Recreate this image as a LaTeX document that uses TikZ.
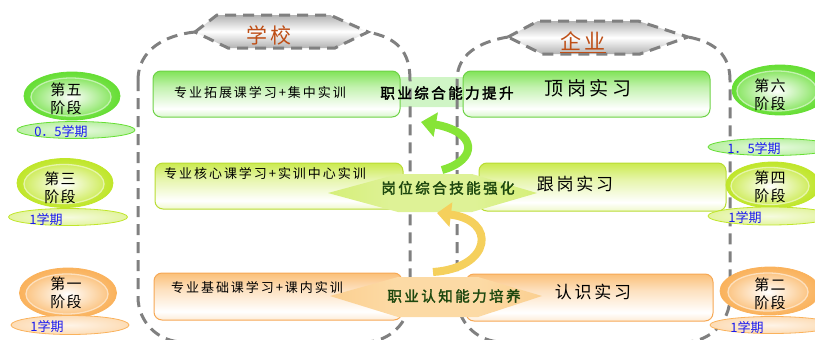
\documentclass[tikz,border=0pt]{standalone}
\usepackage{fontspec}
\setmainfont{Noto Sans CJK SC}
\newfontfamily\cjkheavy{Noto Sans CJK SC}[FakeBold=2.2]
\usetikzlibrary{shapes.geometric,arrows.meta}
\definecolor{cG}{RGB}{102,222,52}
\definecolor{cGd}{RGB}{110,210,70}
\definecolor{cY}{RGB}{192,230,42}
\definecolor{cYd}{RGB}{185,220,50}
\definecolor{cO}{RGB}{250,178,92}
\definecolor{cOd}{RGB}{246,168,85}
\definecolor{dashc}{RGB}{128,128,128}
\definecolor{titlec}{RGB}{190,78,22}
\definecolor{semc}{RGB}{25,25,240}
\definecolor{midtxt}{RGB}{30,72,15}
\definecolor{arrG}{RGB}{135,228,55}
\definecolor{arrY}{RGB}{245,208,92}
\definecolor{palG}{RGB}{208,245,198}
\definecolor{cMt}{RGB}{198,234,70}
\definecolor{cMc}{RGB}{222,242,150}
\definecolor{cBt}{RGB}{250,190,110}
\definecolor{cBc}{RGB}{252,218,165}
\pgfdeclareverticalshading{shG}{100bp}{color(0bp)=(cG); color(14bp)=(cG!55!white); color(34bp)=(white); color(58bp)=(cG!40!white); color(82bp)=(cG); color(100bp)=(cG)}
\pgfdeclareverticalshading{shY}{100bp}{color(0bp)=(cY); color(14bp)=(cY!55!white); color(34bp)=(white); color(58bp)=(cY!40!white); color(82bp)=(cY); color(100bp)=(cY)}
\pgfdeclareverticalshading{shO}{100bp}{color(0bp)=(cO); color(14bp)=(cO!55!white); color(34bp)=(white); color(58bp)=(cO!40!white); color(82bp)=(cO); color(100bp)=(cO)}
\pgfdeclarehorizontalshading{shMid}{100bp}{color(0bp)=(cMt); color(40bp)=(cMc); color(60bp)=(cMc); color(100bp)=(cMt)}
\pgfdeclarehorizontalshading{shBot}{100bp}{color(0bp)=(cBt); color(40bp)=(cBc); color(60bp)=(cBc); color(100bp)=(cBt)}
\tikzset{
  dashline/.style={draw=dashc, line width=3pt, dash pattern=on 11pt off 7pt},
  hexlabel/.style={dashline, top color=black!30, bottom color=black!30, middle color=white},
  titletxt/.style={font={\fontsize{21}{24}\selectfont\addfontfeatures{LetterSpace=15}}, text=titlec, inner sep=0},
  box/.style={rounded corners=8pt, line width=1pt, inner sep=0, minimum width=247pt, minimum height=46pt, shade},
  ltxt/.style={font={\fontsize{13}{15}\selectfont\addfontfeatures{LetterSpace=15}}, inner sep=0},
  rtxt/.style={font={\fontsize{17}{20}\selectfont\addfontfeatures{LetterSpace=16}}, inner sep=0},
  ctxt/.style={font={\cjkheavy\fontsize{14.5}{17}\selectfont\addfontfeatures{LetterSpace=17}}, inner sep=0},
  stO/.style={ellipse, inner sep=0, draw=#1, line width=0.8pt, inner color=#1!60!white, outer color=#1},
  stI/.style={ellipse, inner sep=0, inner color=white, outer color=#1!75!white, draw=#1!40!white, line width=1.3pt},
  sttxt/.style={font={\fontsize{15}{18}\selectfont\addfontfeatures{LetterSpace=7}}, align=center, inner sep=0},
  semE/.style={ellipse, inner sep=0, line width=0.8pt, draw=#1, inner color=#1!15!white, outer color=#1!45!white},
  semtxt/.style={text=semc, font={\fontsize{13}{15}\selectfont}, inner sep=0},
}
\begin{document}
\begin{tikzpicture}[x=1pt,y=-1pt]
\useasboundingbox (0,0) rectangle (815,340);

% pale band behind the top row
\path[fill=palG] (372,92) -- (400,77) -- (466,77) -- (492,92) -- (466,107) -- (400,107) -- cycle;

% school container
\draw[dashline] (195,32) .. controls (165,35) and (138,50) .. (138,80);
\draw[dashline, rounded corners=45pt] (138,80) -- (138,342) -- (410,342) -- (410,80);
\draw[dashline] (410,80) .. controls (410,52) and (398,38) .. (368,32);
% enterprise container
\draw[dashline] (508,37) .. controls (478,42) and (457,55) .. (457,80);
\draw[dashline, rounded corners=45pt] (457,80) -- (457,342) -- (730,342) -- (730,80);
\draw[dashline] (730,80) .. controls (730,55) and (715,42) .. (688,37);

% title hexagons
\path[hexlabel] (195,32) -- (217,15) -- (330,15) -- (368,32) -- (335,48) -- (228,48) -- cycle;
\node[titletxt] (tS) at (269,35) {学校};
\path[hexlabel] (508,37) -- (538,21) -- (638,21) -- (688,37) -- (640,54) -- (542,54) -- cycle;
\node[titletxt] (tE) at (583,41) {企业};
\draw[titlec, line width=1pt] ([yshift=-1.5pt]tE.south west) -- ([yshift=-1.5pt]tE.south east);

% boxes
\node[box, shading=shG, draw=cGd] (b5) at (276.5,94) {};
\node[box, shading=shG, draw=cGd] (b6) at (586.5,94) {};
\node[box, shading=shY, draw=cYd, minimum width=248pt] (b3) at (279,186) {};
\node[box, shading=shY, draw=cYd, minimum height=48pt] (b4) at (602.5,187) {};
\node[box, shading=shO, draw=cOd, minimum width=248pt, minimum height=47pt] (b1) at (278,296.5) {};
\node[box, shading=shO, draw=cOd, minimum height=47pt] (b2) at (589.5,297.5) {};

% central pointed bands
\path[shade, shading=shMid] (328,193) -- (398,174) -- (472,174) -- (537,193) -- (472,212) -- (398,212) -- cycle;
\path[shade, shading=shBot] (330,296) -- (398,277) -- (478,277) -- (542,296) -- (478,317) -- (398,317) -- cycle;

% curved arrows
\coordinate (gS) at (442,170);
\coordinate (gE) at (421,122);
\coordinate (yS) at (433,272);
\coordinate (yE) at (437,213);
\draw[line width=8pt, arrG, -{Triangle[width=24pt,length=15pt]}] (gS) .. controls (478,160) and (478,132) .. (gE);
\draw[line width=8pt, arrY, -{Triangle[width=24pt,length=14pt]}] (yS) .. controls (492,268) and (497,220) .. (yE);

% box texts
\node[ltxt] (l5) at (260,93) {专业拓展课学习+集中实训};
\node[ltxt] (l3) at (265,174) {专业核心课学习+实训中心实训};
\node[ltxt] (l1) at (257,288) {专业基础课学习+课内实训};
\node[rtxt, font={\fontsize{19}{22}\selectfont\addfontfeatures{LetterSpace=18}}] (r6) at (588,88) {顶岗实习};
\node[rtxt] (r4) at (575,184) {跟岗实习};
\node[rtxt] (r2) at (593,292) {认识实习};

% central texts
\node[ctxt] (c5) at (447,93) {职业综合能力提升};
\node[ctxt, text=midtxt] (c3) at (448,188) {岗位综合技能强化};
\node[ctxt, text=midtxt] (c1) at (454,296) {职业认知能力培养};

% stage ellipses, left
\node[stO=cG, minimum width=96pt, minimum height=48pt] (s5) at (72,96) {};
\node[stI=cG, minimum width=80pt, minimum height=38pt] (s5i) at (71,97) {};
\node[stO=cY, minimum width=96pt, minimum height=49pt] (s3) at (65,183) {};
\node[stI=cY, minimum width=80pt, minimum height=39pt] (s3i) at (64,184) {};
\node[stO=cO, minimum width=97pt, minimum height=50pt] (s1) at (68,293) {};
\node[stI=cO, minimum width=82pt, minimum height=40pt] (s1i) at (67,294) {};
% stage ellipses, right
\node[stO=cG, minimum width=96pt, minimum height=50pt] (s6) at (780,90) {};
\node[stI=cG, minimum width=80pt, minimum height=40pt] (s6i) at (777,91) {};
\node[stO=cY, minimum width=94pt, minimum height=46pt] (s4) at (773,185) {};
\node[stI=cY, minimum width=78pt, minimum height=37pt] (s4i) at (770,186) {};
\node[stO=cO, minimum width=100pt, minimum height=48pt] (s2) at (770,291) {};
\node[stI=cO, minimum width=80pt, minimum height=38pt] (s2i) at (768,292) {};

\node[sttxt] (t5) at (66,99) {第五\\阶段};
\node[sttxt] (t3) at (60,188) {第三\\阶段};
\node[sttxt] (t1) at (66,293) {第一\\阶段};
\node[sttxt] (t6) at (770,95) {第六\\阶段};
\node[sttxt] (t4) at (770,187) {第四\\阶段};
\node[sttxt] (t2) at (770,294) {第二\\阶段};

% semester ellipses
\node[semE=cG, minimum width=118pt, minimum height=17pt] (e5) at (76,130) {};
\node[semE=cY, minimum width=119pt, minimum height=17pt] (e3) at (68,217) {};
\node[semE=cO, minimum width=118pt, minimum height=19pt] (e1) at (70,325) {};
\node[semE=cG, minimum width=128pt, minimum height=17pt] (e6) at (772,147) {};
\node[semE=cY, minimum width=124pt, minimum height=18pt] (e4) at (770,216) {};
\node[semE=cO, minimum width=124pt, minimum height=17pt] (e2) at (772,325) {};

\node[semtxt] (m5) at (61,132) {0．5学期};
\node[semtxt] (m3) at (46,220) {1学期};
\node[semtxt] (m1) at (47,327) {1学期};
\node[semtxt] (m6) at (754,149) {1．5学期};
\node[semtxt] (m4) at (745,218) {1学期};
\node[semtxt] (m2) at (747,328) {1学期};
\end{tikzpicture}
\end{document}
